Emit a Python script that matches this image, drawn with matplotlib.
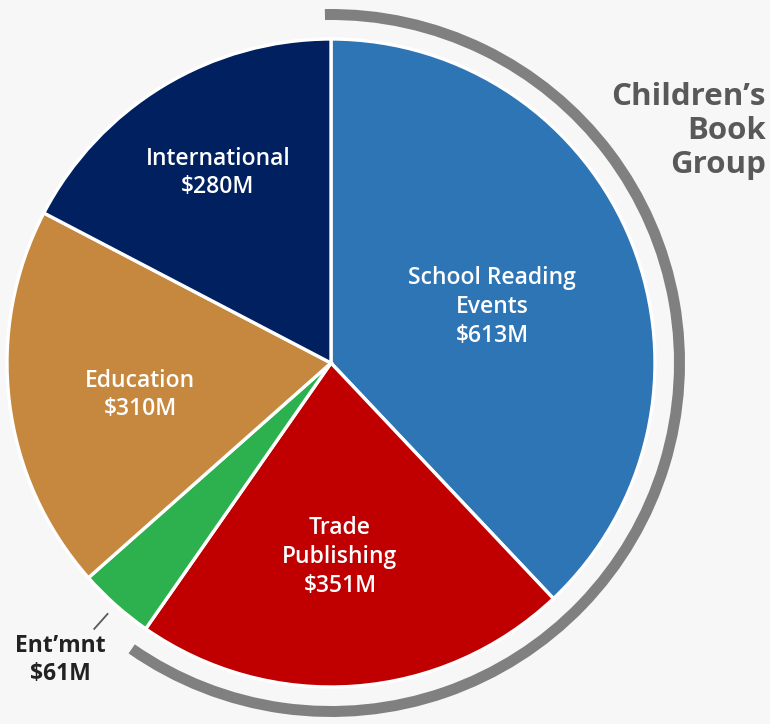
import matplotlib
matplotlib.use("Agg")
import matplotlib.pyplot as plt
from matplotlib.patches import Wedge
import numpy as np

categories = ["School Reading\nEvents", "Trade\nPublishing", "Ent\u2019mnt", "Education", "International"]
values = [613, 351, 61, 310, 280]
value_labels = ["$613M", "$351M", "$61M", "$310M", "$280M"]
colors = ["#2e75b6", "#c00000", "#2db14e", "#c5883e", "#002060"]
group_title = "Children\u2019s\nBook\nGroup"

W, H = 770, 724
fig = plt.figure(figsize=(W / 100, H / 100), dpi=100)
fig.patch.set_facecolor("#f7f7f7")
ax = fig.add_axes([0, 0, 1, 1])
ax.set_facecolor("#f7f7f7")

cx, cy, R = 331, H - 363, 324
wedges, _ = ax.pie(values, colors=colors, startangle=90, counterclock=False,
                   center=(cx, cy), radius=R, frame=True,
                   wedgeprops=dict(edgecolor="white", linewidth=2.4))
ax.set_xlim(0, W)
ax.set_ylim(0, H)
ax.set_aspect("equal")
ax.axis("off")

font = ["Open Sans", "DejaVu Sans"]

# group arc (School Reading + Trade)
total = sum(values)
end_angle = 90 - 360 * (values[0] + values[1]) / total
arc = Wedge((cx, cy), 354, end_angle, 91, width=11, facecolor="#808080", edgecolor="none")
ax.add_patch(arc)

# inside labels (image-pixel positions of label centres)
label_pos = {0: (492, 307), 1: (340, 557), 3: (140, 395), 4: (218, 173)}
for i, (px, py) in label_pos.items():
    ax.text(px, H - py, categories[i] + "\n" + value_labels[i], ha="center", va="center",
            color="white", fontsize=16.5, fontweight="semibold", family=font, linespacing=1.27)

# Ent'mnt outside label with leader
cum = sum(values[:2]) + values[2] / 2
mid = np.deg2rad(90 - 360 * cum / total)
r1, r2 = R + 12, R + 32
ax.plot([cx + r1 * np.cos(mid), cx + r2 * np.cos(mid)],
        [cy + r1 * np.sin(mid), cy + r2 * np.sin(mid)], color="#595959", lw=1.3)
ax.text(60, H - 660, categories[2] + "\n" + value_labels[2], ha="center", va="center",
        color="#222222", fontsize=16.5, fontweight="bold", family=font, linespacing=1.2)

ax.text(766, H - 131, group_title, ha="right", va="center", color="#595959",
        fontsize=22.5, fontweight="bold", family=font, linespacing=1.18)

fig.savefig("out.png", dpi=100, facecolor=fig.get_facecolor())
